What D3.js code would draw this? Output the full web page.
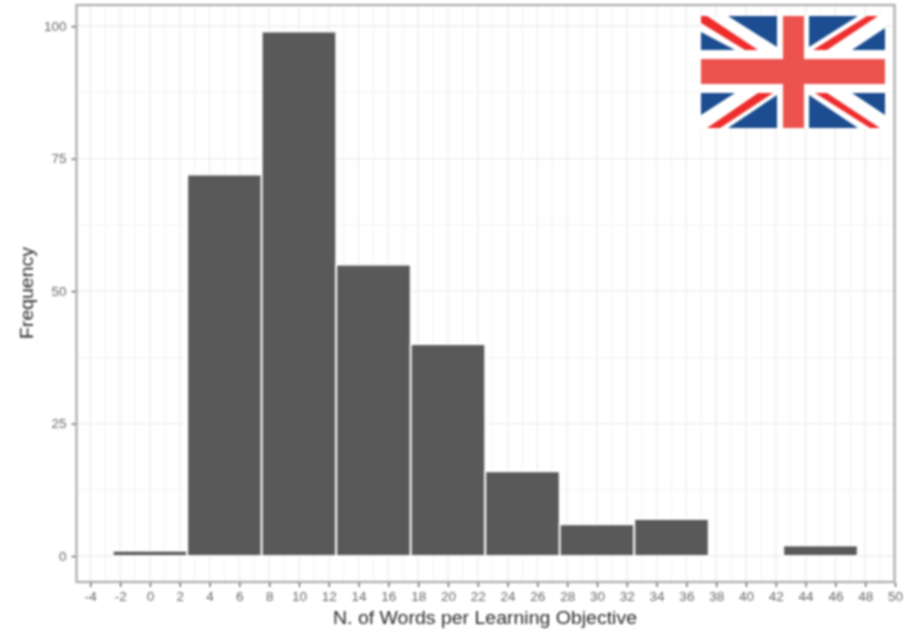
<!DOCTYPE html>
<html><head><meta charset="utf-8">
<script src="https://cdn.jsdelivr.net/npm/d3@7/dist/d3.min.js"></script>
<style>html,body{margin:0;padding:0;background:#fff}svg{display:block;filter:blur(.9px)}</style>
</head><body><svg id="c" width="908" height="631"></svg>
<script>
const binStarts = [-2.5, 2.5, 7.5, 12.5, 17.5, 22.5, 27.5, 32.5, 42.5];
const binCounts = [1, 72, 99, 55, 40, 16, 6, 7, 2];
const binWidth = 5;
const xTicks = d3.range(-4, 51, 2);
const xMinor = d3.range(-3, 50, 2);
const yTicks = [0, 25, 50, 75, 100];
const yMinor = [12.5, 37.5, 62.5, 87.5];
const xTitle = "N. of Words per Learning Objective";
const yTitle = "Frequency";
const flagBlue = [
  [[27,0],[76,0],[76,31]], [[0,16],[0,34],[34,34]],
  [[108,0],[157,0],[108,31]], [[184,12],[184,34],[151,34]],
  [[0,77],[34,77],[0,99]], [[76,79],[76,112],[27,112]],
  [[108,79],[108,112],[157,112]], [[151,77],[184,77],[184,99]]
];
const flagRedDiagonals = [
  [[0,0],[6,0],[57,34],[44,34],[0,7]],
  [[166,0],[177,0],[126,34],[112,34]],
  [[57,77],[72,77],[19,112],[6,112]],
  [[114,77],[126,77],[179,112],[169,112]]
];

const svg = d3.select("#c");
const L = 76.5, R = 894.5, T = 5, B = 582;
const x = d3.scaleLinear().domain([-4.93, 50]).range([L, R + .5]);
const y = d3.scaleLinear().domain([-4.9, 104]).range([B, T]);
const font = "'Liberation Sans', Arial, sans-serif";

svg.append("rect").attr("x", L).attr("y", T).attr("width", R - L).attr("height", B - T).attr("fill", "#fff");
const grid = svg.append("g").attr("fill", "none");
grid.selectAll(".xm").data(xMinor).join("line").attr("x1", d => x(d)).attr("x2", d => x(d)).attr("y1", T).attr("y2", B).attr("stroke", "#f2f2f2").attr("stroke-width", 1);
grid.selectAll(".ym").data(yMinor).join("line").attr("y1", d => y(d)).attr("y2", d => y(d)).attr("x1", L).attr("x2", R).attr("stroke", "#f2f2f2").attr("stroke-width", 1);
grid.selectAll(".xM").data(xTicks).join("line").attr("x1", d => x(d)).attr("x2", d => x(d)).attr("y1", T).attr("y2", B).attr("stroke", "#eeeeee").attr("stroke-width", 1.4);
grid.selectAll(".yM").data(yTicks).join("line").attr("y1", d => y(d)).attr("y2", d => y(d)).attr("x1", L).attr("x2", R).attr("stroke", "#eeeeee").attr("stroke-width", 1.4);

svg.append("g").selectAll("rect").data(binStarts).join("rect")
  .attr("x", d => x(d)).attr("width", d => x(d + binWidth) - x(d))
  .attr("y", (d, i) => y(binCounts[i])).attr("height", (d, i) => y(0) - y(binCounts[i]))
  .attr("fill", "#595959").attr("stroke", "#fff").attr("stroke-width", 1.9);

svg.append("rect").attr("x", L).attr("y", T).attr("width", R - L).attr("height", B - T)
  .attr("fill", "none").attr("stroke", "#ababab").attr("stroke-width", 2.2);

const ax = d3.axisBottom(x).tickValues(xTicks).tickFormat(d => String(d)).tickSize(4).tickPadding(4);
const ay = d3.axisLeft(y).tickValues(yTicks).tickFormat(d => String(d)).tickSize(4).tickPadding(5);
const gx = svg.append("g").attr("transform", `translate(0,${B + 1})`).call(ax);
const gy = svg.append("g").attr("transform", `translate(${L - 1},0)`).call(ay);
[gx, gy].forEach(g => {
  g.select(".domain").remove();
  g.selectAll("line").attr("stroke", "#444").attr("stroke-width", 1.2);
  g.selectAll("text").attr("fill", "#666").style("font", `13.5px ${font}`);
});

svg.append("text").attr("x", 485).attr("y", 623.5).attr("text-anchor", "middle")
  .attr("textLength", 304).attr("lengthAdjust", "spacingAndGlyphs")
  .attr("fill", "#2a2a2a").style("font", `17.5px ${font}`).text(xTitle);
svg.append("text").attr("transform", "translate(33,293) rotate(-90)").attr("text-anchor", "middle")
  .attr("textLength", 92).attr("lengthAdjust", "spacingAndGlyphs")
  .attr("fill", "#2a2a2a").style("font", `17.5px ${font}`).text(yTitle);

const flag = svg.append("g").attr("transform", "translate(701,16)");
flag.append("rect").attr("width", 184).attr("height", 112).attr("fill", "#fff");
const poly = d => d.map(p => p.join(",")).join(" ");
flag.selectAll(".b").data(flagBlue).join("polygon").attr("points", poly).attr("fill", "#1b4d90");
flag.selectAll(".r").data(flagRedDiagonals).join("polygon").attr("points", poly).attr("fill", "#ee2c2c");
flag.append("rect").attr("x", 82).attr("width", 21).attr("height", 112).attr("fill", "#ec534f");
flag.append("rect").attr("y", 43).attr("width", 184).attr("height", 25).attr("fill", "#ec534f");
</script></body></html>
